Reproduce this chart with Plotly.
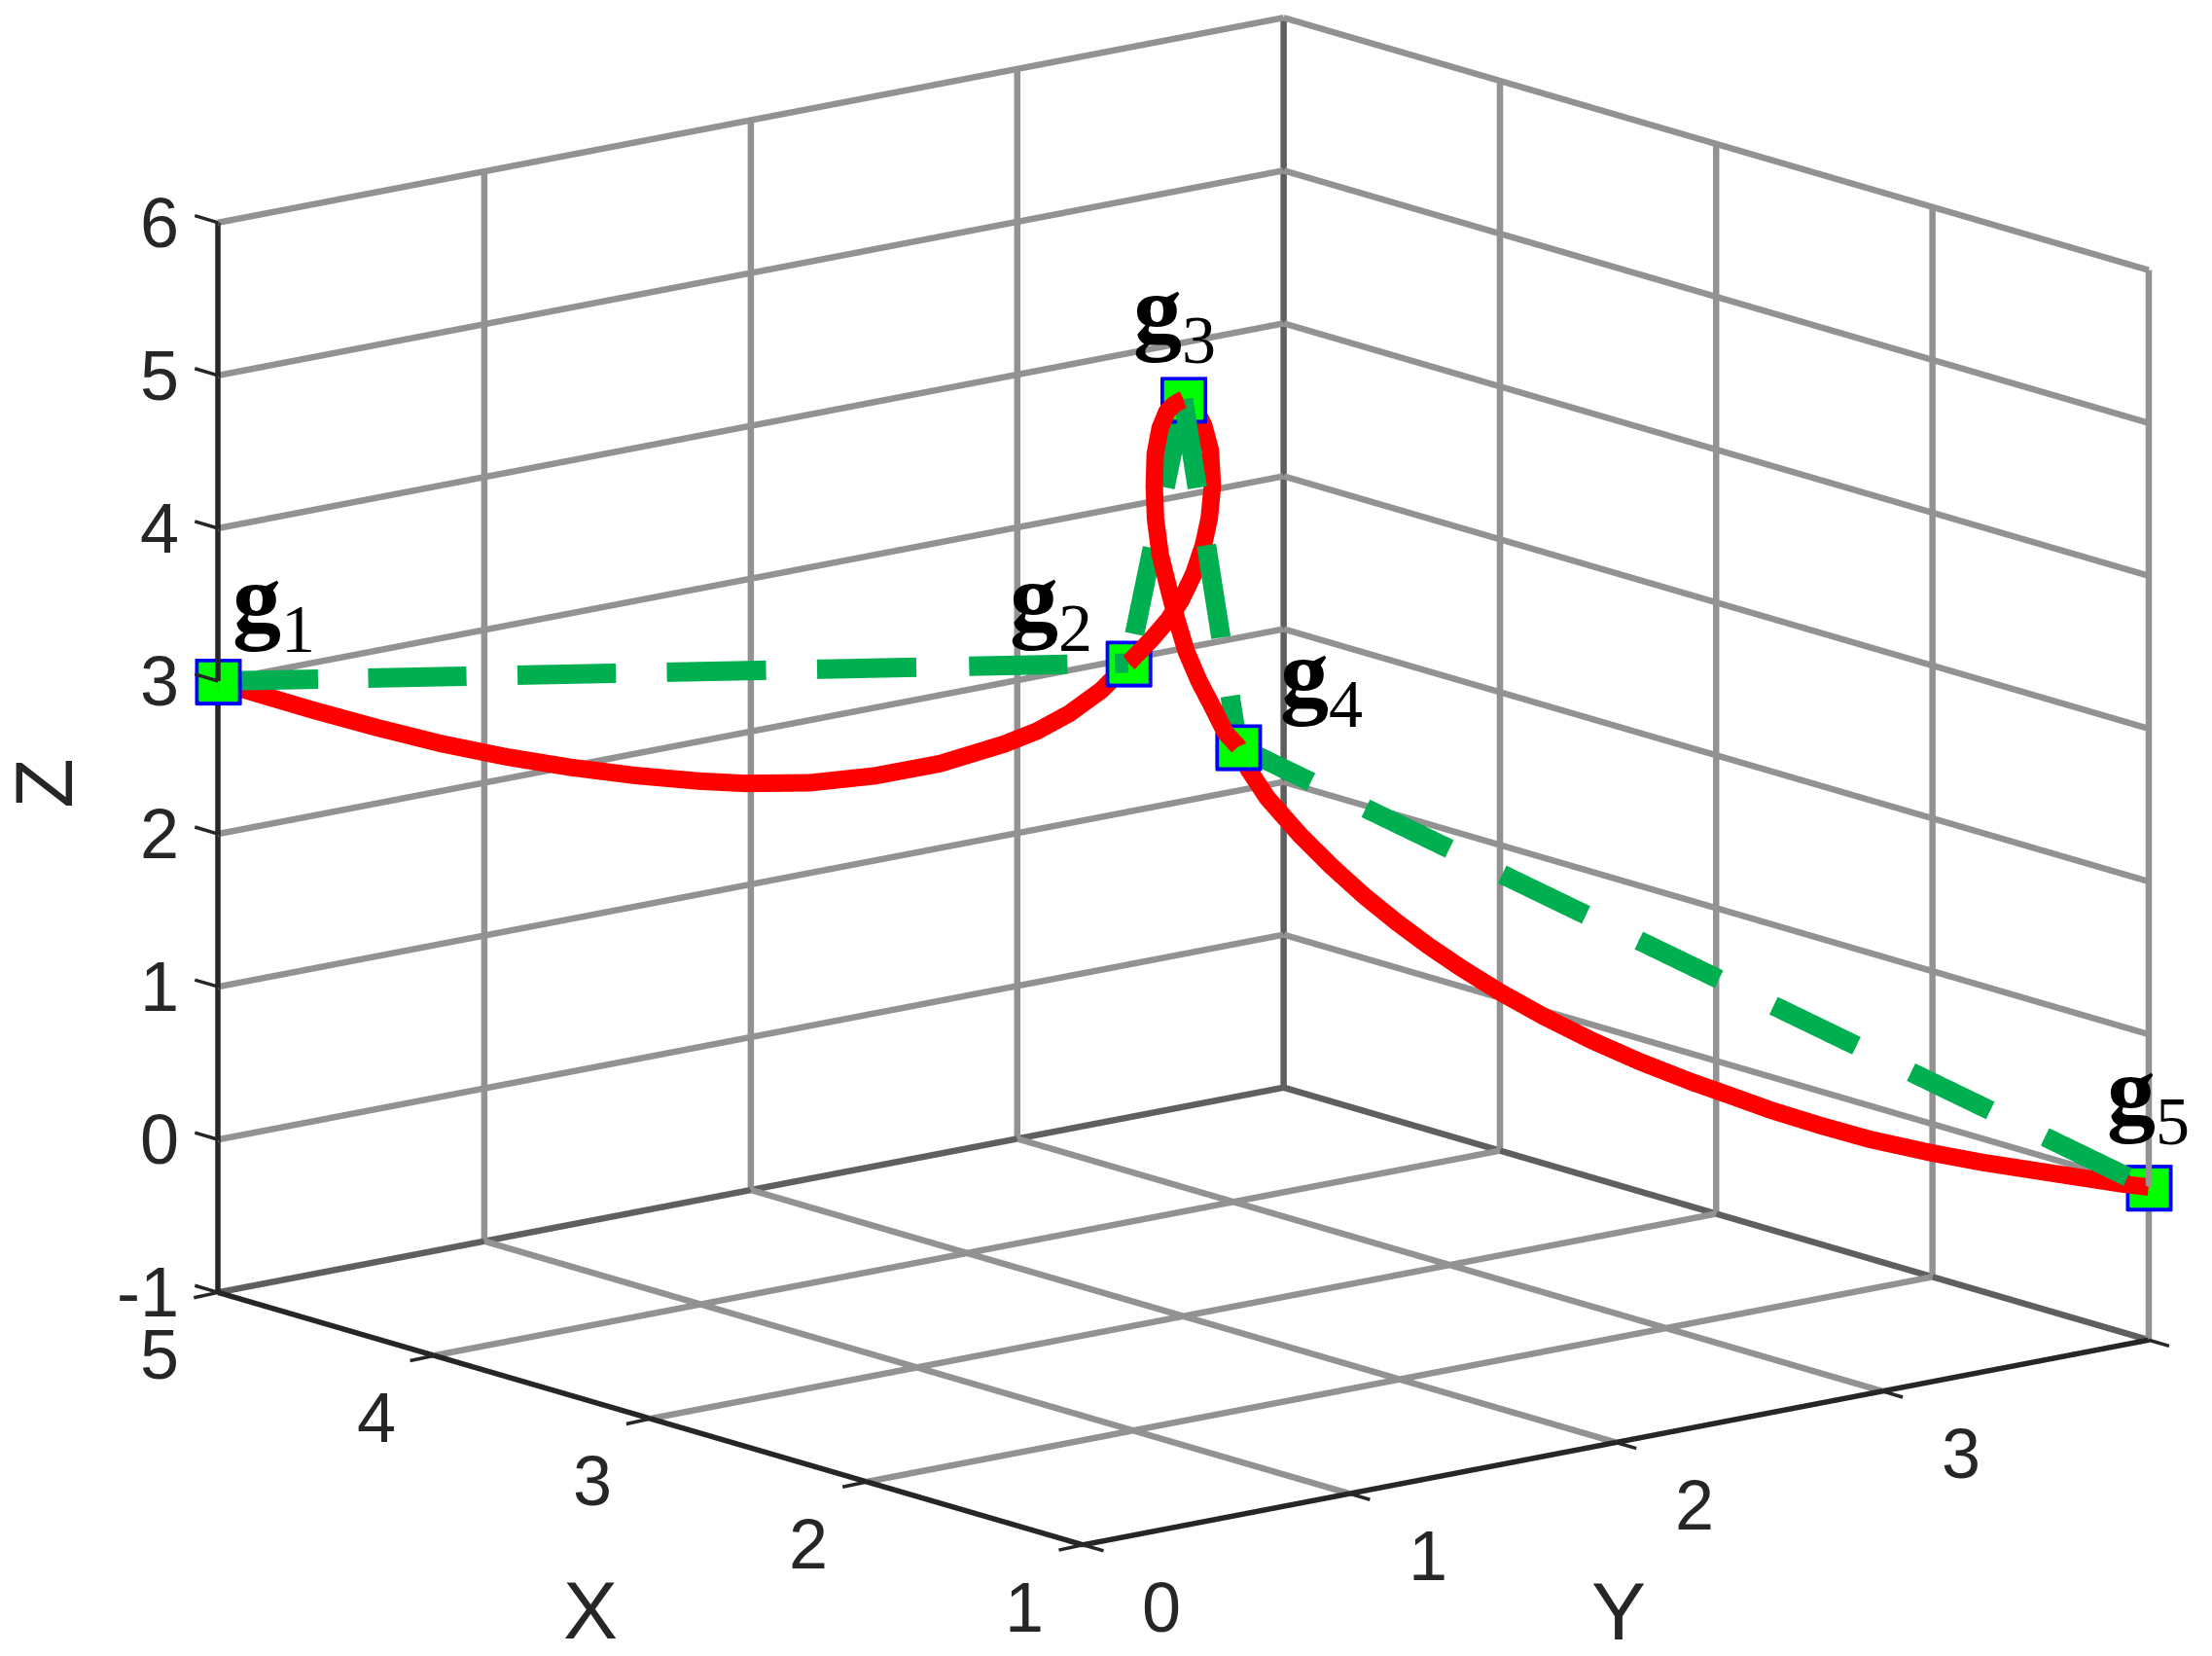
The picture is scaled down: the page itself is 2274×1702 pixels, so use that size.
import plotly.graph_objects as go

gx = [5, 3.5, 3, 2.5, 1]
gy = [0, 2.2, 2, 1.8, 4]
gz = [3, 3, 5, 3, 0]
labels = ["g", "g", "g", "g", "g"]
subs = ["1", "2", "3", "4", "5"]

rx = [5, 4.954, 4.846, 4.739, 4.633, 4.526, 4.419, 4.313, 4.206, 4.131, 4.025, 3.918, 3.81, 3.705, 3.65, 3.598, 3.545, 3.5,
      3.45, 3.41, 3.37, 3.32, 3.27, 3.23, 3.18, 3.13, 3.09, 3.05, 3.03, 3.01, 3,
      2.98, 2.955, 2.93, 2.88, 2.83, 2.78, 2.73, 2.68, 2.64, 2.6, 2.57, 2.54, 2.51, 2.5,
      2.484, 2.452, 2.398, 2.345, 2.292, 2.238, 2.185, 2.132, 2.068, 1.997, 1.917, 1.837, 1.752, 1.70, 1.62, 1.54, 1.459, 1.357, 1.272, 1.165, 1.043, 1]
ry = [0, .068, .226, .383, .538, .695, .852, 1.007, 1.164, 1.275, 1.43, 1.587, 1.745, 1.899, 1.979, 2.057, 2.134, 2.2,
      2.247, 2.277, 2.292, 2.299, 2.295, 2.284, 2.255, 2.207, 2.149, 2.08, 2.046, 2.012, 2,
      1.948, 1.902, 1.856, 1.797, 1.753, 1.717, 1.694, 1.687, 1.683, 1.687, 1.71, 1.737, 1.76, 1.8,
      1.824, 1.87, 1.95, 2.028, 2.105, 2.185, 2.262, 2.34, 2.434, 2.537, 2.655, 2.772, 2.896, 2.974, 3.091, 3.209, 3.326, 3.476, 3.601, 3.758, 3.937, 4]
rz = [3, 2.936, 2.801, 2.676, 2.563, 2.468, 2.39, 2.329, 2.283, 2.262, 2.258, 2.295, 2.367, 2.486, 2.568, 2.677, 2.825, 3,
      3.163, 3.297, 3.435, 3.626, 3.838, 4.031, 4.271, 4.543, 4.744, 4.905, 4.956, 4.995, 5,
      4.99, 4.971, 4.888, 4.757, 4.582, 4.404, 4.197, 3.985, 3.812, 3.617, 3.43, 3.262, 3.101, 3,
      2.855, 2.662, 2.413, 2.199, 2.006, 1.827, 1.668, 1.521, 1.358, 1.197, 1.031, .885, .747, .669, .549, .444, .349, .252, .182, .108, .024, 0]

# dash stretches read along each leg g(i) -> g(i+1), as fractions of the leg
dash_legs = [
    [(0, .11), (.165, .273), (.329, .437), (.493, .602), (.658, .767), (.825, .933), (.985, 1)],
    [(.11, .436), (.666, 1)],
    [(0, .255), (.42, .686), (.854, 1)],
    [(0, .08), (.14, .232), (.29, .382), (.44, .528), (.588, .679), (.739, .826), (.886, .977)],
]

x_ticks = [1, 2, 3, 4, 5]
y_ticks = [0, 1, 2, 3, 4]
y_text = ["0", "1", "2", "3", ""]
z_ticks = [-1, 0, 1, 2, 3, 4, 5, 6]
X0, X1 = 5, 1
Y0, Y1 = 0, 4
Z0, Z1 = -1, 6
PAD = 0.005  # fraction of each axis left free so lines on the box faces are not clipped

INK = "#262626"
GRID = "rgb(146,146,146)"
EDGE = "rgb(95,95,95)"
TICK = dict(family="Liberation Sans", size=72, color=INK)
TITLE = dict(family="Liberation Sans", size=84, color=INK)

dx, dy, dz = [], [], []
for i, leg in enumerate(dash_legs):
    for a, b in leg:
        for f in (a, b):
            dx.append(gx[i] + f * (gx[i + 1] - gx[i]))
            dy.append(gy[i] + f * (gy[i + 1] - gy[i]))
            dz.append(gz[i] + f * (gz[i + 1] - gz[i]))
        dx.append(None); dy.append(None); dz.append(None)


def segs(pairs):
    xs, ys, zs = [], [], []
    for a, b in pairs:
        xs += [a[0], b[0], None]
        ys += [a[1], b[1], None]
        zs += [a[2], b[2], None]
    return xs, ys, zs


edge_pairs = [((X0, Y1, Z0), (X0, Y1, Z1)), ((X0, Y0, Z0), (X0, Y1, Z0)), ((X0, Y1, Z0), (X1, Y1, Z0))]
axis_pairs = [((X0, Y0, Z0), (X0, Y0, Z1)), ((X0, Y0, Z0), (X1, Y0, Z0)), ((X1, Y0, Z0), (X1, Y1, Z0))]
grid_pairs = []
for v in y_ticks:
    grid_pairs.append(((X0, v, Z0), (X0, v, Z1)))     # left wall verticals
    grid_pairs.append(((X0, v, Z0), (X1, v, Z0)))     # floor
for v in x_ticks:
    grid_pairs.append(((v, Y1, Z0), (v, Y1, Z1)))     # right wall verticals
    grid_pairs.append(((v, Y0, Z0), (v, Y1, Z0)))     # floor
for v in z_ticks:
    grid_pairs.append(((X0, Y0, v), (X0, Y1, v)))     # left wall horizontals
    grid_pairs.append(((X0, Y1, v), (X1, Y1, v)))     # right wall horizontals
grid_pairs = [p for p in grid_pairs if p not in edge_pairs and p not in axis_pairs]


def axis(lo, hi, vals, text):
    pad = (hi - lo) * PAD
    return dict(range=[lo - pad, hi + pad], tickmode="array", tickvals=vals, ticktext=text,
                title=dict(text=""), showticklabels=False,
                showgrid=False, showline=False, ticks="",
                showbackground=False, showspikes=False, zeroline=False)


fig = go.Figure()
for pairs, color, w in ((grid_pairs, GRID, 13), (edge_pairs, EDGE, 13), (axis_pairs, INK, 11)):
    xs, ys, zs = segs(pairs)
    fig.add_trace(go.Scatter3d(x=xs, y=ys, z=zs, mode="lines", connectgaps=False,
                               line=dict(color=color, width=w), showlegend=False))
fig.add_trace(go.Scatter3d(x=gx, y=gy, z=gz, mode="markers",
                           marker=dict(symbol="square", size=25, color="#0000ff"),
                           showlegend=False))
fig.add_trace(go.Scatter3d(x=gx, y=gy, z=gz, mode="markers",
                           marker=dict(symbol="square", size=21, color="#00ff00"),
                           showlegend=False))
fig.add_trace(go.Scatter3d(x=rx, y=ry, z=rz, mode="lines",
                           line=dict(color="#ff0000", width=36), showlegend=False))
fig.add_trace(go.Scatter3d(x=dx, y=dy, z=dz, mode="lines", connectgaps=False,
                           line=dict(color="#00b050", width=40), showlegend=False))

offsets = [(57, -78), (-80, -60), (-9, -85), (85, -68), (0, -92)]
annotations = []


def tick_mark(x, y, z, ax, ay):
    return dict(x=x, y=y, z=z, text=" ", showarrow=True, arrowhead=0, arrowwidth=3.5,
                arrowcolor=INK, ax=ax, ay=ay, standoff=0)


for v in z_ticks:
    annotations.append(tick_mark(X0, Y0, v, -27, -8))
for v in x_ticks:
    annotations.append(tick_mark(v, Y0, Z0, -28, 6))
for v in y_ticks:
    annotations.append(tick_mark(X1, v, Z0, 24, 7))

for i in range(5):
    annotations.append(dict(
        x=gx[i], y=gy[i], z=gz[i], showarrow=False,
        text=f"<b>{labels[i]}</b><sub>{subs[i]}</sub>",
        font=dict(family="Liberation Serif", size=100, color="black"),
        xshift=offsets[i][0], yshift=-offsets[i][1]))

for v in z_ticks:
    annotations.append(dict(x=5, y=0, z=v, showarrow=False, text=str(v),
                            font=TICK, xanchor="right", xshift=-38, yshift=0))
for v in x_ticks:
    annotations.append(dict(x=v, y=0, z=-1, showarrow=False, text=str(v),
                            font=TICK, xshift=-60, yshift=-64))
for v, s in zip(y_ticks, y_text):
    if s:
        annotations.append(dict(x=1, y=v, z=-1, showarrow=False, text=s,
                                font=TICK, xshift=81, yshift=-64))
annotations.append(dict(x=3, y=0, z=-1, showarrow=False, text="X", font=TITLE, xshift=-62, yshift=-197))
annotations.append(dict(x=1, y=2, z=-1, showarrow=False, text="Y", font=TITLE, xshift=3, yshift=-173))
annotations.append(dict(x=5, y=0, z=2.5, showarrow=False, text="Z", font=TITLE, textangle=-90,
                        xshift=-180, yshift=-27))

EYE = 1.6
ZOOM = 1.775 * (1 + 2 * PAD)
fig.update_layout(
    width=2274, height=1702, margin=dict(l=0, r=0, t=0, b=0),
    paper_bgcolor="white", showlegend=False,
    scene=dict(
        domain=dict(x=[0.063, 1], y=[0.0658, 1]),
        xaxis=axis(X1, X0, x_ticks, [str(v) for v in x_ticks]) | {"range": [X0 + 4 * PAD, X1 - 4 * PAD]},
        yaxis=axis(Y0, Y1, y_ticks, y_text),
        zaxis=axis(Z0, Z1, z_ticks, [str(v) for v in z_ticks]),
        aspectmode="manual", aspectratio=dict(x=ZOOM, y=ZOOM, z=0.802 * ZOOM),
        camera=dict(projection=dict(type="orthographic"),
                    eye=dict(x=0.754 * EYE, y=-0.612 * EYE, z=0.2367 * EYE),
                    center=dict(x=0, y=0, z=0), up=dict(x=0, y=0, z=1)),
        annotations=annotations,
    ),
)
fig.write_html("out.html")
